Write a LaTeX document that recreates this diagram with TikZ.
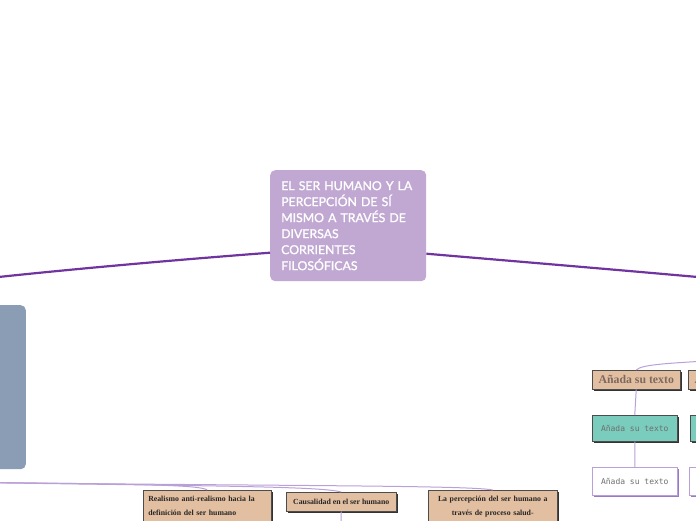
\documentclass[tikz,border=0pt]{standalone}
\usepackage{fontspec}
\setmainfont{Liberation Serif}
\setmonofont{DejaVu Sans Mono}
\newfontfamily\hubfont[FakeBold=1.2]{Lato}
\usepackage{tikz}
\usetikzlibrary{shadows}

\definecolor{hubfill}{RGB}{193,168,211}
\definecolor{trunkcol}{RGB}{112,52,160}
\definecolor{twigcol}{RGB}{186,160,216}
\definecolor{slatefill}{RGB}{139,156,181}
\definecolor{tanfill}{RGB}{227,191,161}
\definecolor{leaffill}{RGB}{122,204,189}
\definecolor{mauve}{RGB}{154,120,200}
\definecolor{tantext}{RGB}{125,105,95}
\definecolor{monotext}{RGB}{110,110,110}

\begin{document}
\begin{tikzpicture}
	[x=1pt, y=-1pt,
	hub/.style={anchor=north west, rounded corners=5pt, fill=hubfill, text=white,
		font=\hubfont\fontsize{12.3}{16}\selectfont, align=left,
		text width=134pt, inner sep=11pt, minimum height=110pt},
	trunk/.style={draw=trunkcol, line width=2.2pt},
	twig/.style={draw=twigcol, line width=1pt},
	darkshadow/.style={drop shadow={shadow xshift=2pt, shadow yshift=-2pt, fill=black!80, opacity=1}},
	tanbox/.style={anchor=north west, fill=tanfill, draw=black!70, line width=0.5pt, darkshadow,
		font=\bfseries\fontsize{11.8}{12}\selectfont, text=tantext,
		minimum width=88pt, minimum height=19pt, inner sep=0pt},
	topic/.style={anchor=north west, fill=tanfill, draw=black!70, line width=0.5pt, darkshadow,
		font=\bfseries\fontsize{7.8}{14}\selectfont, text=black!85, inner xsep=5pt, inner ysep=6pt},
	mintbox/.style={anchor=north west, fill=leaffill, draw=black!70, line width=0.5pt, darkshadow,
		font=\ttfamily\fontsize{8}{10}\selectfont, text=monotext,
		minimum width=85pt, minimum height=26pt, inner sep=0pt},
	paperbox/.style={anchor=north west, fill=white, draw=twigcol, line width=0.6pt,
		drop shadow={shadow xshift=2pt, shadow yshift=-2pt, fill=mauve, opacity=1},
		font=\ttfamily\fontsize{8}{10}\selectfont, text=monotext,
		minimum width=85pt, minimum height=28pt, inner sep=0pt}]

	\useasboundingbox (0,0) rectangle (696,520);

	% centre
	\node[hub] (hub) at (270,170) {EL SER HUMANO Y LA\\PERCEPCIÓN DE SÍ\\MISMO A TRAVÉS DE\\DIVERSAS\\CORRIENTES\\FILOSÓFICAS};

	\coordinate (lsrc) at (-20,279);
	\coordinate (rsrc) at (720,279);
	\draw[trunk] ([yshift=-27pt]hub.west) .. controls (200,258) and (80,268) .. (lsrc);
	\draw[trunk] ([yshift=-28pt]hub.east) .. controls (500,260) and (620,270) .. (rsrc);

	% left branch
	\node[anchor=north east, rounded corners=5pt, fill=slatefill, minimum width=90pt, minimum height=164pt] (side) at (26,305) {};

	% bottom topics
	\coordinate (bsrc) at (-60,482);
	\node[topic, text width=118pt, align=left] (real) at (143,490) {Realismo anti-realismo hacia la\\definición del ser humano\\~};
	\node[topic, minimum width=110pt, minimum height=19pt, inner ysep=0pt] (caus) at (286,492) {Causalidad en el ser humano};
	\node[topic, text width=119pt, align=center] (perc) at (428,490) {La percepción del ser humano a\\través de proceso salud-\\~};
	\coordinate (cdown) at (341,540);

	\draw[twig] (bsrc) .. controls (150,484) and (200,485) .. (real.north);
	\draw[twig] (bsrc) .. controls (200,486) and (320,486) .. (caus.north);
	\draw[twig] (bsrc) .. controls (250,486) and (470,485) .. (perc.north);
	\draw[twig] (caus.south) -- (cdown);

	% right subtree
	\coordinate (sub) at (760,358);
	\node[tanbox] (tanA) at (592,370) {Añada su texto};
	\node[tanbox] (tanB) at (688,370) {Añada su texto};
	\node[mintbox] (mintA) at (592,415) {Añada su texto};
	\node[mintbox] (mintB) at (690,415) {Añada su texto};
	\node[paperbox] (papA) at (592,467) {Añada su texto};
	\node[paperbox] (papB) at (689,467) {Añada su texto};

	\draw[twig] (tanA.north) .. controls (642,364) and (670,363) .. (sub);
	\draw[twig] (tanB.north) .. controls (735,364) and (750,360) .. (sub);
	\draw[twig] (tanA.south) -- (mintA.north);
	\draw[twig] (mintA.south) -- (papA.north);
	\draw[twig] (tanB.south) -- (mintB.north);
	\draw[twig] (mintB.south) -- (papB.north);

\end{tikzpicture}
\end{document}
